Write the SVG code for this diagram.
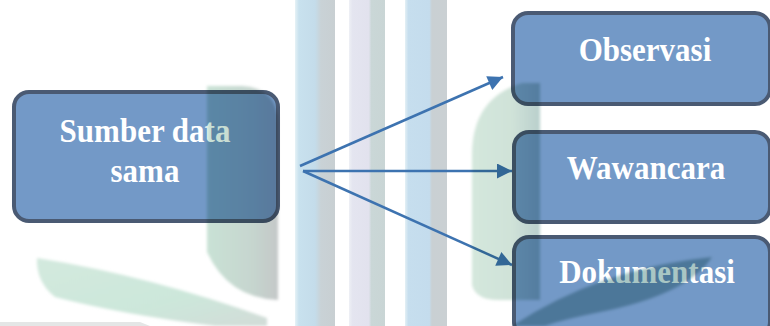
<svg xmlns="http://www.w3.org/2000/svg" width="770" height="326" viewBox="0 0 770 326">
  <defs>
    <style>
      .node { fill: #7399c7; stroke: #4a5a73; stroke-width: 4; }
      .label { font-family: "Liberation Serif", "Times New Roman", serif; font-weight: bold; font-size: 31px; fill: #ffffff; text-anchor: middle; }
      .conn { stroke: #3d73b0; stroke-width: 2.5; fill: none; marker-end: url(#arrow); }
      .wm { mix-blend-mode: multiply; }
    </style>
    <marker id="arrow" viewBox="0 0 10 10" refX="10" refY="5" markerWidth="16" markerHeight="15" markerUnits="userSpaceOnUse" orient="auto">
      <path d="M0,0 L10,5 L0,10 Z" fill="#3d73b0"/>
    </marker>
    <filter id="soft" x="-10%" y="-10%" width="120%" height="120%">
      <feGaussianBlur stdDeviation="1.5"/>
    </filter>
    <linearGradient id="band1" x1="0" y1="0" x2="1" y2="0">
      <stop offset="0" stop-color="#e6f2f6"/>
      <stop offset="0.1" stop-color="#c8e1ee"/>
      <stop offset="0.5" stop-color="#c4dcea"/>
      <stop offset="0.65" stop-color="#c9d2d6"/>
      <stop offset="1" stop-color="#c8cfd2"/>
    </linearGradient>
    <linearGradient id="band2" x1="0" y1="0" x2="1" y2="0">
      <stop offset="0" stop-color="#eef0f5"/>
      <stop offset="0.1" stop-color="#e4e5f0"/>
      <stop offset="0.55" stop-color="#e2e2ee"/>
      <stop offset="0.62" stop-color="#cad7d7"/>
      <stop offset="1" stop-color="#c9d5d5"/>
    </linearGradient>
    <linearGradient id="band3" x1="0" y1="0" x2="1" y2="0">
      <stop offset="0" stop-color="#e4f0f5"/>
      <stop offset="0.08" stop-color="#c6deee"/>
      <stop offset="0.58" stop-color="#c4dced"/>
      <stop offset="0.64" stop-color="#c9d0d3"/>
      <stop offset="1" stop-color="#cad0d3"/>
    </linearGradient>
    <linearGradient id="leafL" x1="0" y1="0" x2="1" y2="0">
      <stop offset="0" stop-color="#c9e2d5"/>
      <stop offset="0.6" stop-color="#c6d6cf"/>
      <stop offset="1" stop-color="#c4c8c8"/>
    </linearGradient>
    <linearGradient id="leafR" x1="0" y1="0" x2="1" y2="0">
      <stop offset="0" stop-color="#d4e7dc"/>
      <stop offset="0.6" stop-color="#cfe2d8"/>
      <stop offset="1" stop-color="#b9cfcc"/>
    </linearGradient>
    <linearGradient id="leafB" x1="0" y1="0" x2="1" y2="1">
      <stop offset="0" stop-color="#d3e9de"/>
      <stop offset="0.6" stop-color="#cce7da"/>
      <stop offset="1" stop-color="#d2dcd8"/>
    </linearGradient>
  </defs>

  <rect x="0" y="0" width="770" height="326" fill="#ffffff"/>

  <g id="watermark-stripes">
    <rect x="295" y="0" width="40" height="326" fill="url(#band1)"/>
    <rect x="349" y="0" width="36" height="326" fill="url(#band2)"/>
    <rect x="405" y="0" width="42" height="326" fill="url(#band3)"/>
  </g>

  <g id="connectors">
    <line class="conn" x1="300" y1="166" x2="503" y2="77"/>
    <line class="conn" x1="303" y1="171" x2="512" y2="171"/>
    <line class="conn" x1="303" y1="171" x2="512" y2="265"/>
  </g>

  <g id="node-sumber">
    <rect class="node" x="14" y="92" width="264" height="129" rx="15"/>
    <text class="label" transform="translate(145,142) scale(1,1.1)">Sumber data</text>
    <text class="label" transform="translate(145,182) scale(1,1.1)">sama</text>
  </g>

  <g id="node-observasi">
    <rect class="node" x="513" y="13" width="257" height="91" rx="15"/>
    <text class="label" transform="translate(645,61) scale(1,1.1)">Observasi</text>
  </g>

  <g id="node-wawancara">
    <rect class="node" x="514" y="132" width="256" height="90" rx="15"/>
    <text class="label" transform="translate(646,179) scale(1,1.1)">Wawancara</text>
  </g>

  <g id="node-dokumentasi">
    <rect class="node" x="514" y="237" width="256" height="100" rx="15"/>
    <text class="label" transform="translate(647,283) scale(1,1.1)">Dokumentasi</text>
  </g>

  <g id="watermark-leaves" class="wm">
    <path d="M207,86 L242,86 Q278,88 278,124 L278,300 Q228,298 207,252 Z" fill="url(#leafL)" filter="url(#soft)"/>
    <path d="M540,83 L522,83 Q472,98 472,155 L472,285 Q476,300 498,300 L540,300 Z" fill="url(#leafR)" filter="url(#soft)"/>
    <path d="M37,258 Q150,276 267,318 L267,326 L215,326 Q120,314 55,297 Q36,282 37,258 Z" fill="url(#leafB)" filter="url(#soft)"/>
    <path d="M512,326 Q600,268 712,257 Q690,292 610,310 Q560,320 545,326 Z" fill="#a9c6c4" filter="url(#soft)"/>
    <path d="M0,322 L140,322 L150,326 L0,326 Z" fill="#e4e6e6"/>
  </g>
</svg>
